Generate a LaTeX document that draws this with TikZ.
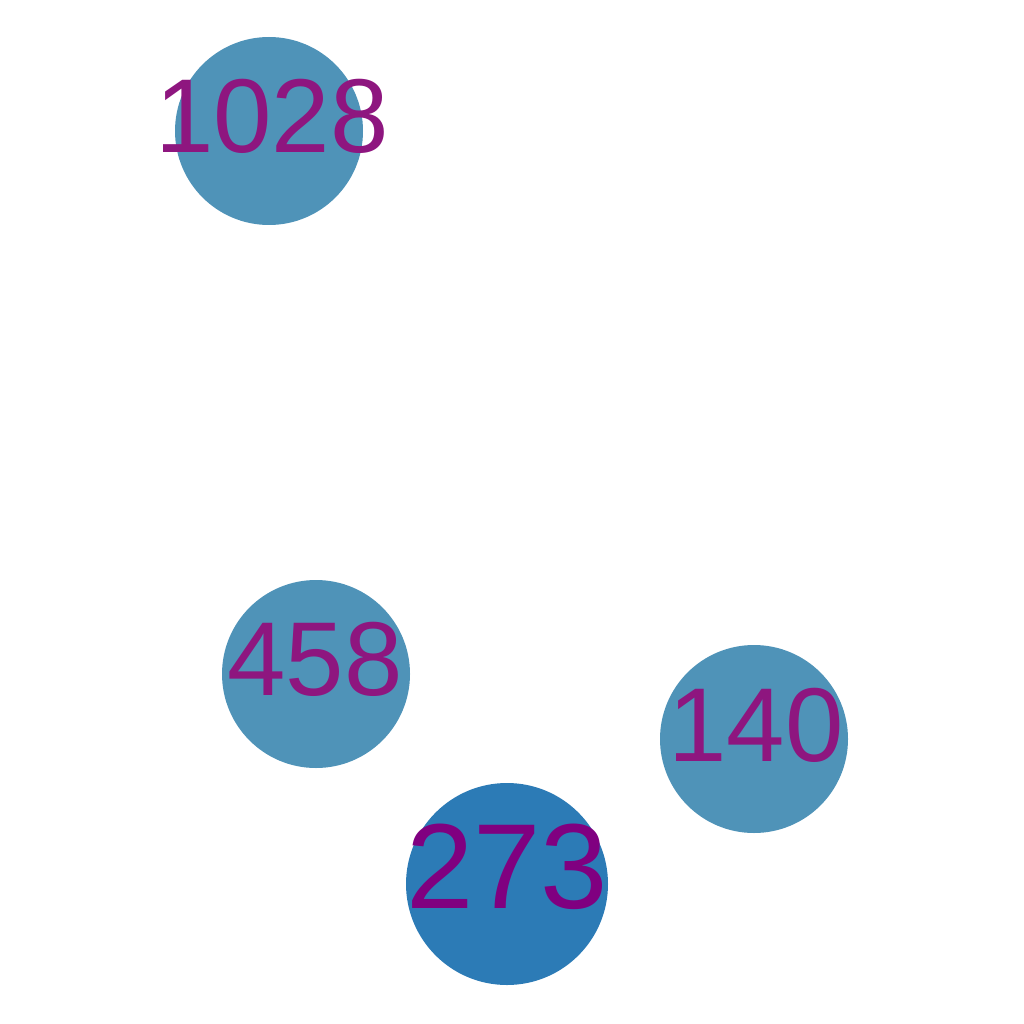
\documentclass[tikz,border=0pt]{standalone}
\usepackage{fontspec}
\setmainfont{Liberation Sans}
\definecolor{vlight}{HTML}{4F93B8}
\definecolor{vdark}{HTML}{2C7BB6}
\definecolor{tlight}{HTML}{8E167F}
\definecolor{tdark}{HTML}{800080}
\begin{document}
\begin{tikzpicture}[x=1pt,y=-1pt,
	vert/.style={circle, fill=vlight, inner sep=0pt, minimum size=188pt},
	lab/.style={inner sep=0pt, text=tlight, font=\fontsize{105}{105}\selectfont}]
\useasboundingbox (0,0) rectangle (1024,1024);

\node[vert] (v1028) at (269,131) {};
\node[vert] (v458) at (316,674) {};
\node[vert] (v140) at (754,739) {};
\node[vert, fill=vdark, minimum size=202pt] (v273) at (507,884) {};

\node[lab] (l1028) at (272,116) {1028};
\node[lab] (l458) at (315,659) {458};
\node[lab] (l140) at (756,725) {140};
\node[lab, text=tdark, font=\fontsize{121}{121}\selectfont] (l273) at (507,867) {273};
\end{tikzpicture}
\end{document}
